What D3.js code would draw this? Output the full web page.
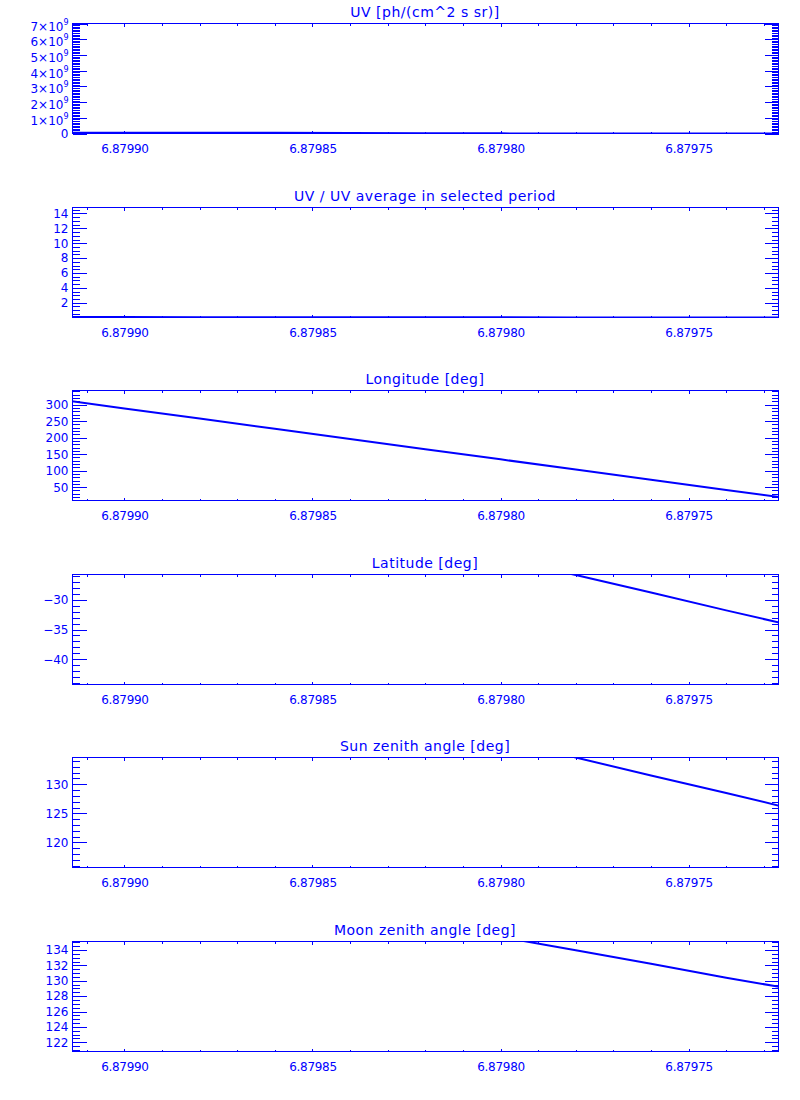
<!DOCTYPE html>
<html>
<head>
<meta charset="utf-8">
<script src="https://cdn.jsdelivr.net/npm/d3@7"></script>
<style>
  html, body { margin: 0; padding: 0; background: #ffffff; }
  svg { display: block; }
  text { font-family: "DejaVu Sans", sans-serif; fill: #0000ff; }
</style>
</head>
<body>
<svg id="chart" width="800" height="1100"></svg>
<script>
// ---- data ----
const times      = [6.87992, 6.87990, 6.87988, 6.87986, 6.87984, 6.87982, 6.87980, 6.87978, 6.87976, 6.87974, 6.87972];
const uvFlux     = [4.5e7, 4.5e7, 4e7, 4e7, 3.5e7, 1e7, 0.8e7, 0.6e7, 0.6e7, 0.5e7, 0.5e7];
const uvRatio    = [0.08, 0.08, 0.07, 0.07, 0.06, 0.04, 0.04, 0.03, 0.03, 0.03, 0.03];
const longitude  = [319.5, 288.6, 257.8, 226.9, 196.0, 165.2, 134.3, 103.4, 72.5, 41.6, 10.8];
const latitude   = [-5.0, -8.0, -11.0, -14.0, -17.0, -20.0, -23.0, -25.9, -28.8, -31.8, -34.7];
const sunZenith  = [156.3, 153.2, 150.1, 147.0, 143.9, 140.8, 137.7, 134.6, 131.5, 128.5, 125.4];
const moonZenith = [146.2, 144.5, 142.7, 141.0, 139.2, 137.5, 135.7, 133.95, 132.2, 130.4, 128.7];

const xDomain     = [6.8799138, 6.8797261];
const xTickLabels = [6.87990, 6.87985, 6.87980, 6.87975];

const titles = ["UV [ph/(cm^2 s sr)]", "UV / UV average in selected period", "Longitude [deg]",
                "Latitude [deg]", "Sun zenith angle [deg]", "Moon zenith angle [deg]"];
const series = [uvFlux, uvRatio, longitude, latitude, sunZenith, moonZenith];
const yDomains = [[0, 7e9], [0.02, 14.8], [9.6, 343], [-44.2, -25.8], [115.7, 134.6], [120.8, 135.1]];
const yMajorTicks = [
  [0, 1e9, 2e9, 3e9, 4e9, 5e9, 6e9, 7e9],
  [2, 4, 6, 8, 10, 12, 14],
  [50, 100, 150, 200, 250, 300],
  [-40, -35, -30],
  [120, 125, 130],
  [122, 124, 126, 128, 130, 132, 134]
];
const yMinorSteps = [1e8, 0.5, 10, 1, 1, 0.5];

// ---- layout ----
const COLOR = "#0000ff";
const left = 72, right = 778;
const panelTop0 = 23, panelStep = 183.5, panelH = 110;

const svg = d3.select("#chart");
const x = d3.scaleLinear().domain(xDomain).range([left + 0.5, right + 0.5]);

// minor x ticks every 1e-5
const xMinor = [];
for (let k = -5; k <= 25; k++) {
  const t = +(6.87990 - k * 0.00001).toFixed(6);
  if (t <= xDomain[0] && t >= xDomain[1]) xMinor.push(t);
}

function minorTicks(dom, step) {
  const lo = Math.min(dom[0], dom[1]), hi = Math.max(dom[0], dom[1]);
  const out = [];
  const start = Math.ceil(lo / step), end = Math.floor(hi / step);
  for (let i = start; i <= end; i++) out.push(+(i * step).toPrecision(10));
  return out;
}

function fmtY(i, v) {
  if (i === 0) return null; // handled separately
  return (v < 0 ? "\u2212" : "") + Math.abs(v);
}

series.forEach((vals, i) => {
  const top = Math.round(panelTop0 + i * panelStep);
  const bottom = top + panelH;
  const g = svg.append("g");
  const y = d3.scaleLinear().domain(yDomains[i]).range([bottom + 0.5, top + 0.5]);

  const styleAxis = sel => {
    sel.select(".domain").remove();
    sel.selectAll("line").attr("stroke", COLOR).attr("stroke-width", 1);
    sel.attr("shape-rendering", "crispEdges");
  };

  // bottom axis (major with labels)
  const gb = g.append("g").attr("transform", `translate(0,${bottom + 0.5})`)
    .call(d3.axisBottom(x).tickValues(xTickLabels).tickSize(-3).tickPadding(10.5)
      .tickFormat(d3.format(".5f")));
  styleAxis(gb);
  gb.selectAll("text").attr("font-size", 12).attr("letter-spacing", "-0.3px")
    .attr("font-family", "DejaVu Sans").attr("fill", COLOR);
  const gbm = g.append("g").attr("transform", `translate(0,${bottom + 0.5})`)
    .call(d3.axisBottom(x).tickValues(xMinor).tickSize(-2).tickFormat(""));
  styleAxis(gbm);

  // top axis
  const gt = g.append("g").attr("transform", `translate(0,${top + 0.5})`)
    .call(d3.axisTop(x).tickValues(xTickLabels).tickSize(-3).tickFormat(""));
  styleAxis(gt);
  const gtm = g.append("g").attr("transform", `translate(0,${top + 0.5})`)
    .call(d3.axisTop(x).tickValues(xMinor).tickSize(-2).tickFormat(""));
  styleAxis(gtm);

  // left axis
  const gl = g.append("g").attr("transform", `translate(${left + 0.5},0)`)
    .call(d3.axisLeft(y).tickValues(yMajorTicks[i]).tickSize(-14).tickPadding(4)
      .tickFormat(v => i === 0 ? "" : fmtY(i, v)));
  styleAxis(gl);
  gl.selectAll("text").attr("font-size", 12).attr("font-family", "DejaVu Sans").attr("fill", COLOR);
  if (i === 0) {
    gl.selectAll("text").each(function (v) {
      const t = d3.select(this);
      t.text(null);
      if (v === 0) { t.text("0"); return; }
      t.attr("dy", "0.55em");
      t.append("tspan").text((v / 1e9) + "\u00d710");
      t.append("tspan").attr("font-size", 8).attr("dy", "-0.75em").text("9");
    });
  }
  const glm = g.append("g").attr("transform", `translate(${left + 0.5},0)`)
    .call(d3.axisLeft(y).tickValues(minorTicks(yDomains[i], yMinorSteps[i])).tickSize(-7).tickFormat(""));
  styleAxis(glm);

  // right axis
  const gr = g.append("g").attr("transform", `translate(${right + 0.5},0)`)
    .call(d3.axisRight(y).tickValues(yMajorTicks[i]).tickSize(-14).tickFormat(""));
  styleAxis(gr);
  const grm = g.append("g").attr("transform", `translate(${right + 0.5},0)`)
    .call(d3.axisRight(y).tickValues(minorTicks(yDomains[i], yMinorSteps[i])).tickSize(-7).tickFormat(""));
  styleAxis(grm);

  // frame
  g.append("rect")
    .attr("x", left + 0.5).attr("y", top + 0.5)
    .attr("width", right - left).attr("height", panelH)
    .attr("fill", "none").attr("stroke", COLOR).attr("stroke-width", 1)
    .attr("shape-rendering", "crispEdges");

  // clip + data line
  const clipId = "clip" + i;
  svg.append("clipPath").attr("id", clipId).append("rect")
    .attr("x", left).attr("y", top).attr("width", right - left + 1).attr("height", panelH + 1);
  const line = d3.line().x((d, k) => x(times[k])).y(d => y(d));
  g.append("path").datum(vals)
    .attr("clip-path", `url(#${clipId})`)
    .attr("d", line)
    .attr("fill", "none").attr("stroke", COLOR).attr("stroke-width", 2);

  // title
  g.append("text")
    .attr("x", (left + right) / 2).attr("y", top - 6)
    .attr("text-anchor", "middle").attr("font-size", 14).attr("letter-spacing", "0.5px")
    .text(titles[i]);
});
</script>
</body>
</html>
